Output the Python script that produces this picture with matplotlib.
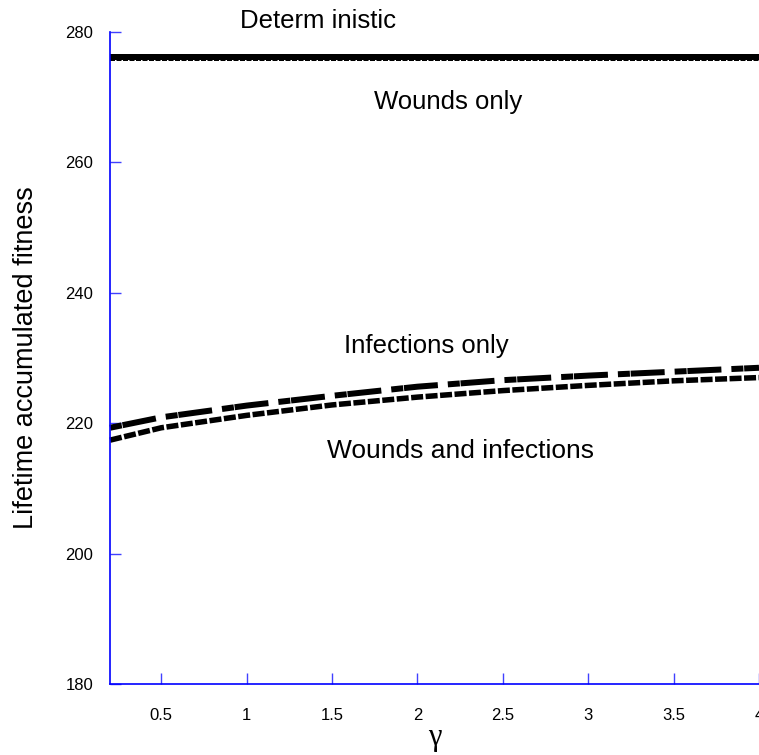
import numpy as np
import matplotlib
matplotlib.use('Agg')
import matplotlib.pyplot as plt

# gamma values and curves
gamma = [0.2, 0.5, 1.0, 1.5, 2.0, 2.5, 3.0, 3.5, 4.0]
deterministic = [276.2] * len(gamma)
wounds_only = [275.8] * len(gamma)
infections_only = [219.3, 220.9, 222.7, 224.2, 225.6, 226.6, 227.3, 227.9, 228.5]
wounds_and_infections = [217.4, 219.3, 221.2, 222.8, 224.0, 225.0, 225.8, 226.5, 227.0]

xticks = [0.5, 1, 1.5, 2, 2.5, 3, 3.5, 4]
xtick_labels = ['0.5', '1', '1.5', '2', '2.5', '3', '3.5', '4']
yticks = [180, 200, 220, 240, 260, 280]


def px(n):
    # pixels -> points at 100 dpi
    return n * 0.72


def main():
    plt.rcParams['font.family'] = ['Liberation Sans', 'DejaVu Sans']
    plt.rcParams['lines.scale_dashes'] = False

    fig = plt.figure(figsize=(7.59, 7.55), dpi=100)
    ax = fig.add_axes([110 / 759, 1 - 684 / 755, 649 / 759, (684 - 32) / 755])

    # Wounds only (dashed, mostly under the deterministic line)
    l, = ax.plot(gamma, wounds_only, color='black', lw=px(4), clip_on=False,
                 solid_capstyle='butt')
    l.set_dashes((px(5), px(1.5)))
    ax.plot(gamma, deterministic, color='black', lw=px(6), clip_on=False,
            solid_capstyle='butt')

    l, = ax.plot(gamma, infections_only, color='black', lw=px(6),
                 clip_on=False)
    l.set_dashes((px(12), px(0.8), px(34), px(10)))
    l.set_dash_capstyle('butt')

    l, = ax.plot(gamma, wounds_and_infections, color='black', lw=px(5.5),
                 clip_on=False)
    l.set_dashes((px(12), px(2.5)))
    l.set_dash_capstyle('butt')

    ax.set_xlim(0.2, 4)
    ax.set_ylim(180, 280)
    ax.set_xticks(xticks)
    ax.set_xticklabels(xtick_labels)
    ax.set_yticks(yticks)

    for side in ['top', 'right']:
        ax.spines[side].set_visible(False)
    for side in ['left', 'bottom']:
        ax.spines[side].set_color('#0000ff')
        ax.spines[side].set_linewidth(1.2)
    ax.tick_params(direction='in', length=8, width=1, color='#4040ff',
                   labelsize=12, labelcolor='black')
    ax.tick_params(axis='x', pad=17)
    ax.tick_params(axis='y', pad=12)

    ax.set_ylabel('Lifetime accumulated fitness', fontsize=19.5, labelpad=19)
    ax.set_xlabel('γ', fontsize=22, labelpad=0, family='Liberation Serif')

    kw = dict(fontsize=18.5, ha='center', va='center', clip_on=False)
    ax.text(1.42, 281.7, 'Determ inistic', **kw)
    ax.text(2.18, 269.3, 'Wounds only', **kw)
    ax.text(2.05, 231.8, 'Infections only', **kw)
    ax.text(2.25, 215.7, 'Wounds and infections', fontsize=19, ha='center',
            va='center')

    fig.savefig('out.png', dpi=100)


if __name__ == '__main__':
    main()
